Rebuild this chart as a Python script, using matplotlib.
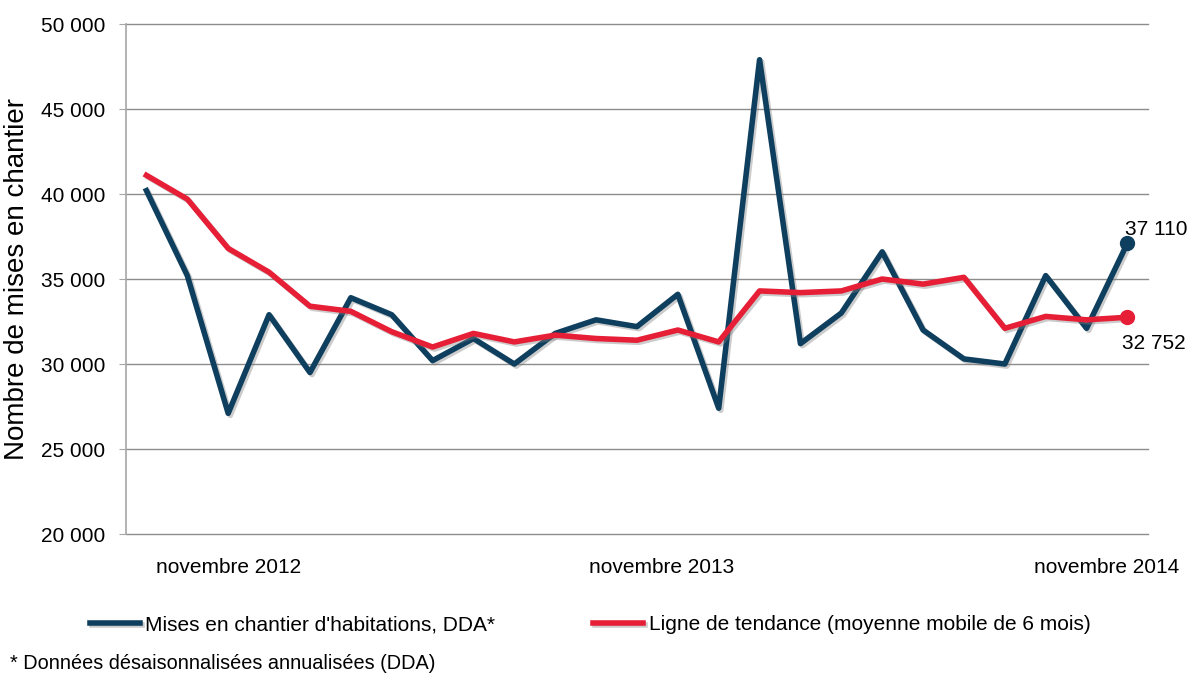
import numpy as np
import matplotlib.pyplot as plt
import matplotlib.patheffects as pe
from matplotlib.ticker import FuncFormatter

# Mises en chantier, novembre 2012 -> novembre 2014 (mensuel)
mises = [40200, 35200, 27100, 32900, 29500, 33900, 32900, 30200, 31500, 30000,
         31800, 32600, 32200, 34100, 27400, 47900, 31200, 33000, 36600, 32000,
         30300, 30000, 35200, 32100, 37110]
tendance = [41100, 39700, 36800, 35400, 33400, 33100, 31900, 31000, 31800, 31300,
            31700, 31500, 31400, 32000, 31300, 34300, 34200, 34300, 35000, 34700,
            35100, 32100, 32800, 32600, 32752]
mois_labels = ['novembre 2012', 'novembre 2013', 'novembre 2014']
mois_pos = [2.0, 12.6, 23.5]

bleu = '#0f3f5e'
rouge = '#e61e36'

plt.rcParams['font.family'] = ['Liberation Sans', 'DejaVu Sans']

fig = plt.figure(figsize=(11.91, 6.77), dpi=100)
ax = fig.add_axes([0.1058, 0.2112, 0.858, 0.7533])

x = np.arange(len(mises))
shadow = [pe.SimpleLineShadow(offset=(1.5, -1.5), shadow_color='gray', alpha=0.4),
          pe.Normal()]
l1, = ax.plot(x, mises, color=bleu, lw=4, path_effects=shadow, zorder=3)
l2, = ax.plot(x, tendance, color=rouge, lw=4, path_effects=shadow, zorder=4)
ax.plot(x[-1], mises[-1], 'o', color=bleu, ms=10, zorder=5)
ax.plot(x[-1], tendance[-1], 'o', color=rouge, ms=10, zorder=5)

fmt = lambda v: f'{v:,.0f}'.replace(',', ' ')
ax.annotate(fmt(mises[-1]), (x[-1], mises[-1]), xytext=(-2, 3),
            textcoords='offset points', fontsize=15, ha='left', va='bottom')
ax.annotate(fmt(tendance[-1]), (x[-1], tendance[-1]), xytext=(-4, -12),
            textcoords='offset points', fontsize=15, ha='left', va='top')

ax.set_xlim(-0.5, 24.5)
ax.set_ylim(20000, 50000)
ax.set_yticks(np.arange(20000, 50001, 5000))
ax.yaxis.set_major_formatter(FuncFormatter(lambda v, p: fmt(v)))
ax.grid(axis='y', color='#8c8c8c', lw=1)
for gl in ax.get_ygridlines():
    gl.set_clip_on(False)
ax.set_axisbelow(True)
for s in ['top', 'right', 'bottom']:
    ax.spines[s].set_visible(False)
ax.spines['left'].set_color('#a6a6a6')
ax.spines['left'].set_linewidth(1.2)
ax.tick_params(axis='y', labelsize=15, length=5, color='#a6a6a6', pad=10)
ax.set_xticks(mois_pos)
ax.set_xticklabels(mois_labels, fontsize=15)
ax.tick_params(axis='x', length=0, pad=17)
ax.set_ylabel('Nombre de mises en chantier', fontsize=20, labelpad=8)

fig.legend([l1, l2], ["Mises en chantier d'habitations, DDA*",
                      'Ligne de tendance (moyenne mobile de 6 mois)'],
           ncol=2, frameon=False, fontsize=15, loc='center left',
           bbox_to_anchor=(0.060, 0.077), handlelength=2.4,
           handletextpad=0.25, columnspacing=4.7)
fig.text(0.008, 0.012, '* Données désaisonnalisées annualisées (DDA)',
         fontsize=14.3)

fig.savefig('out.png', dpi=100)
